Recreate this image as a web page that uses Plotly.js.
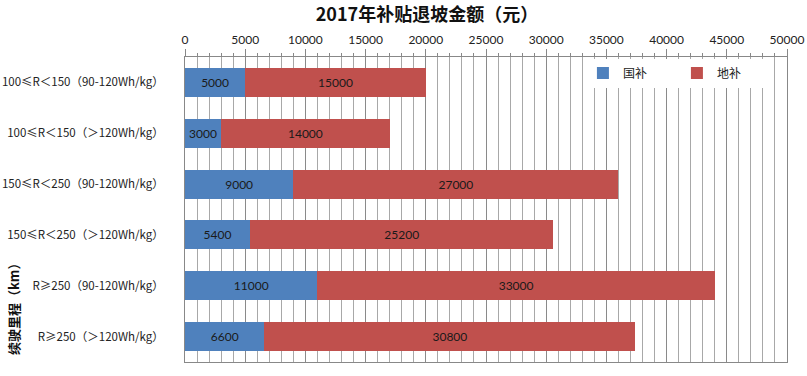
<!DOCTYPE html>
<html><head><meta charset="utf-8">
<script src="https://cdn.plot.ly/plotly-3.0.1.min.js"></script>
<style>html,body{margin:0;padding:0;background:#fff}</style>
</head><body><div id="chart" style="width:807px;height:376px"></div>
<script>
const categories = [
  "100≤R＜150（90-120Wh/kg）",
  "100≤R＜150（＞120Wh/kg）",
  "150≤R＜250（90-120Wh/kg）",
  "150≤R＜250（＞120Wh/kg）",
  "R≥250（90-120Wh/kg）",
  "R≥250（＞120Wh/kg）"
];
const guobu = [5000, 3000, 9000, 5400, 11000, 6600];
const dibu = [15000, 14000, 27000, 25200, 33000, 30800];
const seriesNames = ["国补", "地补"];

const FONT = "Lato, 'Noto Sans CJK SC', sans-serif";
const CJK = "'Noto Sans CJK SC', sans-serif";
const traces = [
  {type:'bar', orientation:'h', name:seriesNames[0], y:categories, x:guobu,
   marker:{color:'#4F81BD'}, text:guobu.map(String), textposition:'inside',
   insidetextanchor:'middle', textfont:{color:'#1a1a1a', size:12, family:FONT}, constraintext:'none', hoverinfo:'none'},
  {type:'bar', orientation:'h', name:seriesNames[1], y:categories, x:dibu,
   marker:{color:'#C0504D'}, text:dibu.map(String), textposition:'inside',
   insidetextanchor:'middle', textfont:{color:'#1a1a1a', size:12, family:FONT}, constraintext:'none', hoverinfo:'none'}
];
const layout = {
  width:807, height:376,
  margin:{l:185, r:20, t:57, b:14, pad:0},
  barmode:'stack', bargap:0.43,
  paper_bgcolor:'#fff', plot_bgcolor:'#fff',
  font:{family:FONT, size:12, color:'#222'},
  title:{text:'<b>2017年补贴退坡金额（元）</b>', x:427/807, xref:'container', xanchor:'center', y:1-15/376, yref:'container', yanchor:'middle', font:{size:18, color:'#111', family:CJK}},
  xaxis:{side:'top', range:[0,50000], dtick:5000, tick0:0, tickformat:'d', showgrid:true, gridcolor:'#8a8a8a', gridwidth:1,
    minor:{dtick:1000, showgrid:true, gridcolor:'#a8a8a8', ticks:'outside', ticklen:3, tickcolor:'#888'},
    ticks:'outside', ticklen:7, tickcolor:'#888', showline:true, linecolor:'#888', mirror:true,
    tickfont:{size:12, color:'#222', family:FONT}, zeroline:false, automargin:false},
  yaxis:{autorange:'reversed', showline:true, linecolor:'#888', mirror:true, ticks:'', ticklabelstandoff:18,
    tickfont:{size:11.5, color:'#222', family:CJK}, showgrid:false, automargin:false},
  legend:{orientation:'h', x:0.661, y:0.995, xanchor:'left', yanchor:'top', bgcolor:'#fff', traceorder:'normal',
    entrywidth:49, font:{size:12, family:CJK, color:'#222'}, itemwidth:30},
  annotations:[{text:'<b>续驶里程（km）</b>', xref:'paper', yref:'paper', x:(13-185)/602, y:(362-306)/305,
    xanchor:'center', yanchor:'middle',
    showarrow:false, textangle:-90, font:{size:13, color:'#111', family:CJK}}],
  showlegend:true
};
Plotly.newPlot('chart', traces, layout, {staticPlot:true, displayModeBar:false});
</script></body></html>
